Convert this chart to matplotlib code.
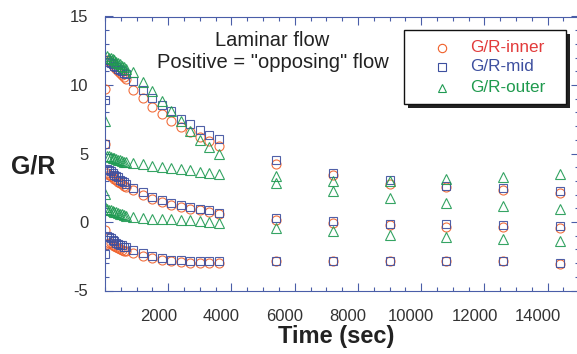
import matplotlib
matplotlib.use("Agg")
import matplotlib.pyplot as plt
from matplotlib.ticker import MultipleLocator
from matplotlib.transforms import ScaledTranslation
from matplotlib.patches import Rectangle
from matplotlib.lines import Line2D

plt.rcParams["font.family"] = ["Liberation Sans", "DejaVu Sans"]
plt.rcParams["axes.unicode_minus"] = False

# ---- data ----
TIME = [0, 60, 120, 180, 240, 300, 360, 420, 480, 540, 600, 660,
        900, 1200, 1500, 1800, 2100, 2400, 2700, 3000, 3300, 3600,
        5400, 7200, 9000, 10800, 12600, 14400]

# probe group 1 (top)
G1_INNER = [9.7, 11.85, 11.75, 11.6, 11.5, 11.35, 11.2, 11.05, 10.9, 10.75, 10.6, 10.45,
            9.65, 9.07, 8.43, 7.9, 7.36, 6.92, 6.55, 6.19, 5.88, 5.53,
            4.25, 3.44, 2.79, 2.54, 2.35, 2.15]
G1_MID = [8.94, 11.8, 11.7, 11.6, 11.5, 11.4, 11.3, 11.2, 11.1, 11.0, 10.9, 10.8,
          10.26, 9.65, 9.07, 8.55, 8.07, 7.53, 7.17, 6.75, 6.36, 6.07,
          4.56, 3.59, 3.08, 2.64, 2.45, 2.28]
G1_OUTER = [7.4, 12.1, 12.0, 11.95, 11.9, 11.8, 11.7, 11.6, 11.5, 11.4, 11.3, 11.2,
            10.93, 10.25, 9.55, 8.8, 8.07, 7.35, 6.65, 6.0, 5.46, 4.98,
            2.83, 2.23, 1.77, 1.42, 1.2, 0.94]
# probe group 2
G2_INNER = [5.7, 3.6, 3.45, 3.35, 3.25, 3.15, 3.05, 2.95, 2.85, 2.75, 2.65, 2.55,
            2.3, 1.98, 1.69, 1.45, 1.25, 1.13, 0.96, 0.84, 0.72, 0.6,
            0.18, -0.06, -0.2, -0.33, -0.33, -0.42]
G2_MID = [5.7, 3.9, 3.8, 3.7, 3.55, 3.45, 3.35, 3.25, 3.1, 3.0, 2.9, 2.8,
          2.5, 2.18, 1.81, 1.62, 1.4, 1.25, 1.08, 0.96, 0.84, 0.67,
          0.28, 0.04, -0.11, -0.18, -0.23, -0.3]
G2_OUTER = [2.05, 4.85, 4.8, 4.75, 4.7, 4.65, 4.6, 4.55, 4.5, 4.45, 4.4, 4.35,
            4.29, 4.2, 4.12, 4.05, 3.95, 3.85, 3.76, 3.66, 3.56, 3.47,
            3.39, 2.96, 2.98, 3.15, 3.27, 3.52]
# probe group 3 (bottom)
G3_INNER = [-0.6, -1.6, -1.5, -1.55, -1.65, -1.75, -1.85, -1.9, -2.0, -2.05, -2.1, -2.15,
            -2.28, -2.45, -2.6, -2.74, -2.84, -2.93, -2.96, -2.96, -2.96, -2.96,
            -2.83, -2.83, -2.83, -2.83, -2.88, -3.05]
G3_MID = [-2.3, -1.0, -1.1, -1.2, -1.3, -1.4, -1.5, -1.6, -1.65, -1.7, -1.8, -1.85,
          -2.08, -2.28, -2.45, -2.61, -2.74, -2.81, -2.88, -2.88, -2.88, -2.88,
          -2.83, -2.83, -2.83, -2.83, -2.83, -2.96]
G3_OUTER = [1.08, 0.95, 0.9, 0.85, 0.8, 0.75, 0.7, 0.65, 0.6, 0.55, 0.5, 0.47,
            0.35, 0.28, 0.23, 0.23, 0.2, 0.18, 0.16, 0.06, -0.01, -0.09,
            -0.42, -0.64, -0.96, -1.11, -1.23, -1.4]

XTICKS = [2000, 4000, 6000, 8000, 10000, 12000, 14000]
LABELS = ["G/R-inner", "G/R-mid", "G/R-outer"]

ORANGE = "#f0602a"
BLUE = "#3d4f9f"
GREEN = "#1f9a52"
AXBLUE = "#4a5ea8"
TXT_COLORS = ["#e23b3b", "#3d4f9f", "#1f9a4e"]

W, H = 577, 354
fig = plt.figure(figsize=(W / 100, H / 100), dpi=100)


def fx(px):
    return px / W


def fy(py):
    return 1 - py / H


ax = fig.add_axes([fx(105), fy(290.5), 474.3 / W, 274 / H])

style = dict(ls="none", mfc="none", mew=0.8, alpha=0.9)
for vals in (G1_INNER, G2_INNER, G3_INNER):
    ax.plot(TIME, vals, marker="o", ms=6.5, mec=ORANGE, **style)
for vals in (G1_MID, G2_MID, G3_MID):
    ax.plot(TIME, vals, marker="s", ms=5.8, mec=BLUE, **style)
for vals in (G1_OUTER, G2_OUTER, G3_OUTER):
    ax.plot(TIME, vals, marker="^", ms=6.8, mec=GREEN, **style)

ax.set_xlim(0, 15000)
ax.set_ylim(-5, 15)
ax.set_xticks(XTICKS)
ax.xaxis.set_minor_locator(MultipleLocator(500))
ax.yaxis.set_major_locator(MultipleLocator(5))
ax.yaxis.set_minor_locator(MultipleLocator(1))
ax.tick_params(which="both", direction="in", top=True, right=True,
               color=AXBLUE, labelsize=12, labelcolor="#333333", width=0.8)
ax.tick_params(which="major", length=5.5)
ax.tick_params(which="minor", length=3)
ax.tick_params(axis="x", pad=13)
ax.tick_params(axis="y", pad=12)
for sp in ax.spines.values():
    sp.set_color(AXBLUE)
    sp.set_linewidth(0.8)

# x labels sit a little left of their ticks in the original
shift = ScaledTranslation(-10 / 100, 0, fig.dpi_scale_trans)
for lbl in ax.get_xticklabels():
    lbl.set_transform(lbl.get_transform() + shift)

fig.text(fx(272), fy(40), "Laminar flow", ha="center", va="center",
         fontsize=14.5, color="#222222")
fig.text(fx(273), fy(62), 'Positive = "opposing" flow', ha="center", va="center",
         fontsize=14.5, color="#222222")
fig.text(fx(33), fy(166), "G/R", ha="center", va="center", fontsize=18,
         fontweight="bold", color="#222222")
fig.text(fx(336), fy(337), "Time (sec)", ha="center", va="center", fontsize=17,
         fontweight="bold", color="#222222")

# legend box with drop shadow
x0, y0, x1, y1 = 404, 30, 566, 104
fig.add_artist(Rectangle((fx(x0 + 4), fy(y1 + 4)), (x1 - x0) / W, (y1 - y0) / H,
                         transform=fig.transFigure, fc="#222222", ec="none"))
fig.add_artist(Rectangle((fx(x0), fy(y1)), (x1 - x0) / W, (y1 - y0) / H,
                         transform=fig.transFigure, fc="white", ec="#111111", lw=1.0))
for (mk, ms, col), lab, tc, ry in zip([("o", 6, ORANGE), ("s", 5.3, BLUE), ("^", 6, GREEN)],
                                      LABELS, TXT_COLORS, [47.7, 66.7, 87.5]):
    fig.add_artist(Line2D([fx(442)], [fy(ry)], marker=mk, ms=ms, mfc="none", mec=col,
                          mew=0.8, transform=fig.transFigure))
    fig.text(fx(470.5), fy(ry), lab, ha="left", va="center", fontsize=12.3, color=tc)

fig.savefig("out.png", dpi=100)
